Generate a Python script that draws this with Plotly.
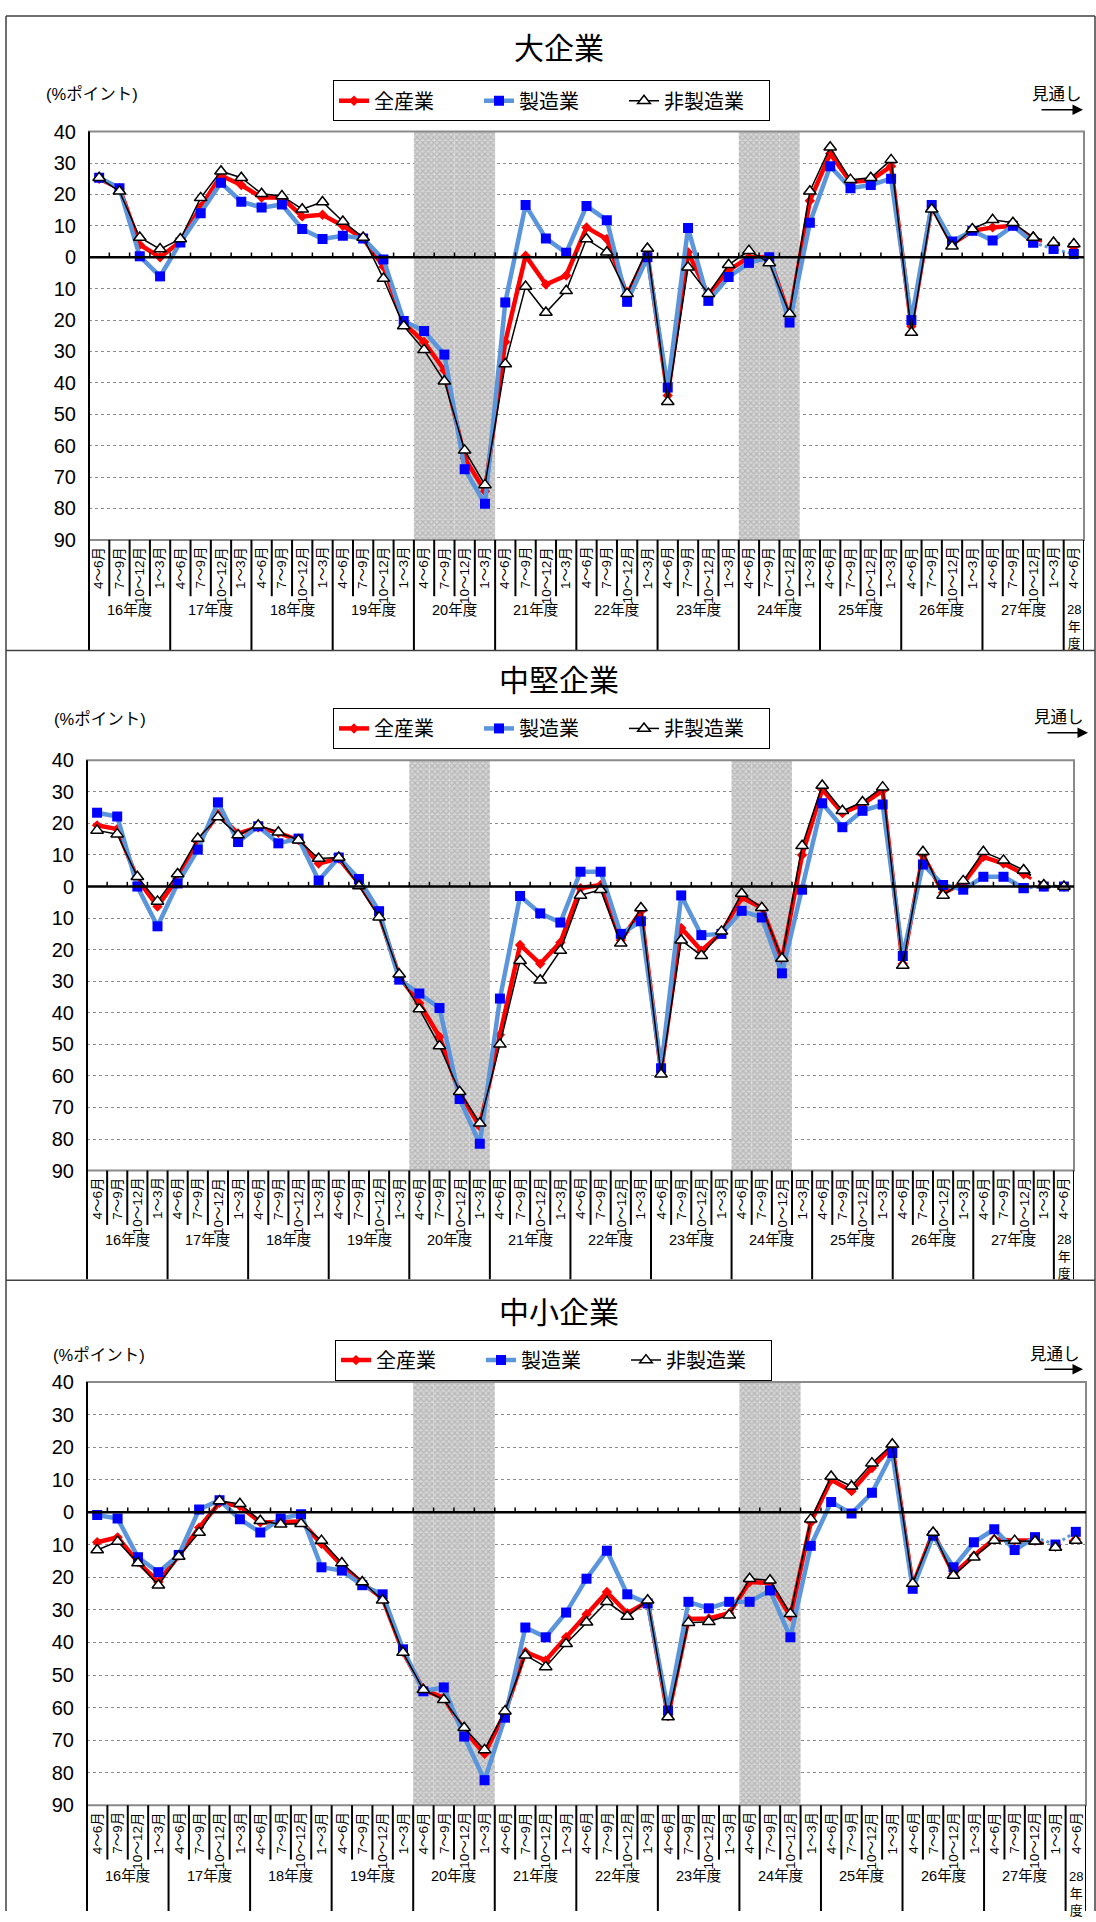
import plotly.graph_objects as go

W, H = 1096, 1922
JP = "Liberation Sans, Noto Sans CJK JP, sans-serif"

# ---------------- data ----------------
periods = ["4～6月", "7～9月", "10～12月", "1～3月"]
fiscal_years = ["16年度", "17年度", "18年度", "19年度", "20年度", "21年度", "22年度",
                "23年度", "24年度", "25年度", "26年度", "27年度", "28年度"]
cat_labels = [p for fy in fiscal_years[:-1] for p in periods] + [periods[0]]
x_idx = list(range(len(cat_labels)))

recession_cats = [16, 17, 18, 19, 32, 33, 34]
last_actual = 46          # later points are 見通し (forecast), drawn dashed
series_names = ["全産業", "製造業", "非製造業"]
panel_titles = ["大企業", "中堅企業", "中小企業"]
y_min, y_max, y_step = -90, 40, 10

large_all = [25, 22, 4, 0, 5, 16, 26, 23, 19, 19, 13, 13.5, 10, 6, -3, -21,
             -27, -36, -64, -74.5, -27, 0.5, -8.7, -5.8, 9.5, 5.8, -12, 1,
             -44, 1.6, -12, -4.2, 0, 0, -19, 18, 33, 24, 24.5, 29,
             -22, 16.3, 4.2, 8.4, 9.5, 10, 5.8, 4.2, 3.2]
large_mfg = [25.3, 22, 0.3, -6.1, 4.7, 14, 23.7, 17.7, 15.8, 16.8, 9, 5.8, 6.8, 6, -0.7, -20.3,
             -23.5, -31, -67.5, -78.5, -14.4, 16.6, 6, 1.4, 16.3, 11.8, -14.2, 0,
             -41.5, 9.3, -13.9, -6.3, -1.8, 0, -20.8, 11, 29, 22, 23, 25,
             -20, 16.6, 5, 8.4, 5.3, 10, 4.7, 2.6, 1]
large_non = [25.3, 21, 6.3, 2.6, 5.8, 18.9, 27.4, 25.3, 20.2, 19.5, 15.3, 17.6, 11.4, 6.3, -6.8, -21.9,
             -29.5, -39.5, -61.5, -72.5, -34, -9.3, -17.6, -10.7, 5.8, 1.6, -11.6, 2.8,
             -46, -3.2, -11.6, -2.4, 2.1, -1.8, -18, 21, 35, 24.7, 25.3, 31,
             -24, 15.3, 3.5, 9, 11.9, 11, 6.3, 4.7, 4.2]

mid_all = [19.4, 18.2, 2.4, -6.3, 2.6, 14, 23, 16.8, 18.8, 17, 14.7, 7.3, 8.9, 1, -8.8, -28.5,
           -37, -47.6, -65.5, -76, -47, -18.5, -24.5, -17.7, -0.5, 0.5, -17, -7.8,
           -58.5, -13.1, -20.3, -14.6, -3.5, -6.7, -23.3, 10, 30.8, 23.3, 26.1, 30.4,
           -24.5, 10, -2, 1, 9.4, 7.3, 4, 0, 0]
mid_mfg = [23.4, 22.2, 0, -12.6, 1, 11.7, 26.7, 14.1, 19.1, 13.7, 15.2, 1.9, 9.2, 2.4, -7.8, -29.5,
           -33.9, -38.5, -67.3, -81.5, -35.5, -3, -8.5, -11.4, 4.7, 4.7, -15, -11,
           -57.6, -2.8, -15.4, -15, -7.7, -9.8, -27.5, -1, 26.4, 18.8, 24, 26,
           -22, 7, 0.5, -1, 3.1, 3.1, -0.5, 0, 0]
mid_non = [17.8, 16.6, 3.1, -4.7, 4, 15.2, 22, 16.3, 19.4, 17.2, 14.7, 8.9, 9.2, 0.2, -9.7, -27.8,
           -38.8, -50.5, -65, -75, -50, -23.5, -29.7, -20.3, -2.8, -1, -18, -6.8,
           -59.5, -17, -21.9, -14.2, -2.2, -6.7, -22.8, 12.9, 32, 24, 26.8, 31.5,
           -25, 11, -2.8, 1.8, 11, 8.3, 5.2, 0.5, 0]

small_all = [-9.2, -7.7, -15.3, -21.4, -13.3, -4.7, 2.9, 1.9, -3.1, -3.1, -2.8, -9.7, -16.3, -21.7, -26.5, -42.9,
             -54.5, -57, -67, -74.2, -61.6, -42.9, -45.5, -38.4, -31.3, -24.5, -31, -27.5,
             -62.6, -32.8, -32.6, -31, -21.4, -21.7, -32, -3.1, 10, 6.5, 13.6, 20.2,
             -22.4, -6.2, -18.9, -13.3, -8.2, -8.7, -8.7, -10.6, -8.2]
small_mfg = [-0.8, -1.9, -13.8, -18.4, -13.1, 0.9, 3.7, -2.1, -6.2, -1.9, -0.6, -16.9, -17.9, -22.4, -25.2, -42.1,
             -55, -53.8, -68.9, -82.3, -63.1, -35.4, -38.4, -30.8, -20.4, -11.8, -25.2, -28,
             -60.9, -27.5, -29.5, -27.5, -27.5, -24, -38.4, -10.3, 3.2, -0.4, 6, 18.2,
             -23.5, -7.2, -16.9, -9.2, -5.2, -11.6, -7.7, -9.9, -6]
small_non = [-11.6, -9, -15.6, -22.4, -13.6, -6.2, 3.5, 2.6, -2.6, -3.7, -3.5, -8.7, -15.6, -21.4, -27, -43.1,
             -54.5, -57.6, -66.2, -73, -61.1, -43.9, -47.5, -40.4, -33.8, -27.5, -32, -27,
             -62.9, -33.9, -33.6, -31.6, -20.4, -20.9, -31.2, -2.1, 11, 8, 15.1, 20.9,
             -21.9, -6.2, -19.4, -13.8, -8.7, -8.7, -8.9, -10.8, -8.7]

panel_data = [(large_all, large_mfg, large_non),
              (mid_all, mid_mfg, mid_non),
              (small_all, small_mfg, small_non)]

# ---------------- layout geometry (pixels) ----------------
panels = [
    dict(plot=(89, 1084, 122, 535), lab_bot=592, year_y=606, top=5, bot=647,
         title_y=38, legend=(333, 70), unit=(44, 84), outlook=(1057, 84), arrow=(1040, 1083, 100)),
    dict(plot=(87, 1074, 758, 1173), lab_bot=1228, year_y=1243, top=647, bot=1283,
         title_y=677, legend=(333, 705), unit=(52, 716), outlook=(1059, 714), arrow=(1046, 1088, 730)),
    dict(plot=(87, 1086, 1387, 1815), lab_bot=1870, year_y=1887, top=1284, bot=1922,
         title_y=1317, legend=(335, 1344), unit=(51, 1360), outlook=(1055, 1359), arrow=(1043, 1083, 1374)),
]

def px(x):
    return x / W

def py(y):
    return 1 - y / H

styles = [
    dict(line=dict(color="#FF0000", width=4.5),
         marker=dict(symbol="diamond", size=8, color="#FF0000")),
    dict(line=dict(color="#5B95DB", width=4.5),
         marker=dict(symbol="square", size=10, color="#0000FF")),
    dict(line=dict(color="#000000", width=1.5),
         marker=dict(symbol="triangle-up", size=11, color="#FFFFFF",
                     line=dict(color="#000000", width=1.5))),
]
dashes = ["dash", "dot", "dash"]

fig = go.Figure()
shapes, annotations = [], []
layout = dict(width=W, height=H, margin=dict(l=0, r=0, t=0, b=0),
              plot_bgcolor="white", paper_bgcolor="white",
              font=dict(family=JP, color="black"), barmode="overlay")

for k, (pn, data) in enumerate(zip(panels, panel_data)):
    n = k + 1
    xa = "x" if n == 1 else f"x{n}"
    ya = "y" if n == 1 else f"y{n}"
    lg = "legend" if n == 1 else f"legend{n}"
    x0p, x1p, y0p, y1p = pn["plot"]

    layout["xaxis" if n == 1 else f"xaxis{n}"] = dict(
        domain=[px(x0p), px(x1p)], anchor=ya, range=[-0.5, len(cat_labels) - 0.5],
        showticklabels=False, showgrid=False, zeroline=False, showline=False, ticks="")
    layout["yaxis" if n == 1 else f"yaxis{n}"] = dict(
        domain=[py(y1p), py(y0p)], anchor=xa, range=[y_min, y_max],
        tickvals=list(range(y_min, y_max + 1, y_step)),
        ticktext=[str(abs(v)) for v in range(y_min, y_max + 1, y_step)],
        tickfont=dict(size=20, family="Liberation Sans, Arial, sans-serif"),
        showgrid=True, gridcolor="#8c8c8c", griddash="dot", gridwidth=1,
        zeroline=False, showline=False, ticks="", ticklabelstandoff=12)

    # recession shading
    fig.add_trace(go.Bar(
        x=recession_cats, y=[y_max - y_min] * len(recession_cats), base=y_min, width=1,
        marker=dict(color="#c0c0c0", line=dict(width=0),
                    pattern=dict(shape="x", fgcolor="#969696", bgcolor="#d6d6d6", size=4, solidity=0.5)),
        xaxis=xa, yaxis=ya, showlegend=False, hoverinfo="skip"))

    for s, (name, vals) in enumerate(zip(series_names, data)):
        fig.add_trace(go.Scatter(
            x=x_idx[:last_actual + 1], y=vals[:last_actual + 1], name=name, mode="lines+markers",
            line=styles[s]["line"], marker=styles[s]["marker"],
            xaxis=xa, yaxis=ya, legend=lg, showlegend=True))
        dline = dict(styles[s]["line"])
        dline["dash"] = dashes[s]
        dline["width"] = max(2, dline["width"] - 1.5)
        fig.add_trace(go.Scatter(
            x=x_idx[last_actual:], y=vals[last_actual:], name=name, mode="lines+markers",
            line=dline, marker=styles[s]["marker"],
            xaxis=xa, yaxis=ya, legend=lg, showlegend=False))

    layout[lg] = dict(x=px(pn["legend"][0]), y=py(pn["legend"][1]), xanchor="left", yanchor="top",
                      orientation="h", bordercolor="black", borderwidth=1, bgcolor="white",
                      font=dict(size=20, family=JP), entrywidth=100, traceorder="normal")

    # plot frame
    shapes.append(dict(type="rect", xref=f"{xa} domain", yref=f"{ya} domain", x0=0, x1=1, y0=0, y1=1,
                       line=dict(color="#8a8a8a", width=2), layer="above"))
    # zero line and ticks
    shapes.append(dict(type="line", xref=xa, yref=ya, x0=-0.5, x1=len(cat_labels) - 0.5, y0=0, y1=0,
                       line=dict(color="black", width=2.5), layer="above"))
    for i in range(len(cat_labels) - 1):
        shapes.append(dict(type="line", xref=xa, yref=ya, x0=i + 0.5, x1=i + 0.5, y0=0, y1=1.5,
                           line=dict(color="black", width=1.5), layer="above"))
    # category table
    shapes.append(dict(type="line", xref=f"{xa} domain", yref="paper", x0=0, x1=0,
                       y0=py(y0p), y1=py(pn["bot"]), line=dict(color="black", width=2)))
    for i in range(len(cat_labels)):
        full = (i + 1) % 4 == 0 or i == len(cat_labels) - 1
        shapes.append(dict(type="line", xref=xa, yref="paper", x0=i + 0.5, x1=i + 0.5,
                           y0=py(y1p), y1=py(pn["bot"] if full else pn["lab_bot"]),
                           line=dict(color="black", width=2)))
    for i, lab in enumerate(cat_labels):
        annotations.append(dict(xref=xa, yref="paper", x=i, y=py(y1p + 5), text=lab, textangle=-90,
                                showarrow=False, xanchor="center", yanchor="top",
                                font=dict(size=13.5, family=JP)))
    for j, fy in enumerate(fiscal_years[:-1]):
        annotations.append(dict(xref=xa, yref="paper", x=4 * j + 1.5, y=py(pn["year_y"]), text=fy,
                                showarrow=False, xanchor="center", yanchor="middle",
                                font=dict(size=14.5, family=JP)))
    annotations.append(dict(xref=xa, yref="paper", x=len(cat_labels) - 1, y=py(pn["year_y"] - 10),
                            text="<br>".join([fiscal_years[-1][:2], fiscal_years[-1][2], fiscal_years[-1][3]]),
                            showarrow=False, xanchor="center", yanchor="top",
                            font=dict(size=13, family=JP)))
    # titles and notes
    annotations.append(dict(xref="paper", yref="paper", x=px(559), y=py(pn["title_y"]), text=panel_titles[k],
                            showarrow=False, xanchor="center", yanchor="middle", font=dict(size=30, family=JP)))
    annotations.append(dict(xref="paper", yref="paper", x=px(pn["unit"][0]), y=py(pn["unit"][1]),
                            text="(%ポイント)", showarrow=False, xanchor="left", yanchor="middle",
                            font=dict(size=16.5, family=JP)))
    annotations.append(dict(xref="paper", yref="paper", x=px(pn["outlook"][0]), y=py(pn["outlook"][1]),
                            text="見通し", showarrow=False, xanchor="center", yanchor="middle",
                            font=dict(size=16.5, family=JP)))
    ax0, ax1, ay = pn["arrow"]
    annotations.append(dict(xref="paper", yref="paper", x=px(ax1), y=py(ay), text="",
                            showarrow=True, axref="pixel", ayref="pixel", ax=-(ax1 - ax0), ay=0,
                            arrowhead=2, arrowsize=1.4, arrowwidth=1.5, arrowcolor="black"))
    # panel frame
    shapes.append(dict(type="line", xref="paper", yref="paper", x0=px(6), x1=px(1095),
                       y0=py(pn["top"]), y1=py(pn["top"]), line=dict(color="#404040", width=1.5)))

shapes.append(dict(type="line", xref="paper", yref="paper", x0=px(6), x1=px(6), y0=py(5), y1=0,
                   line=dict(color="#404040", width=1.5)))
shapes.append(dict(type="line", xref="paper", yref="paper", x0=px(1095), x1=px(1095), y0=py(5), y1=0,
                   line=dict(color="#404040", width=1.5)))

layout["shapes"] = shapes
layout["annotations"] = annotations
fig.update_layout(**layout)
fig.write_html("out.html", config={"displayModeBar": False},
               post_script="document.body.style.margin='0px';document.body.style.overflow='hidden';")
